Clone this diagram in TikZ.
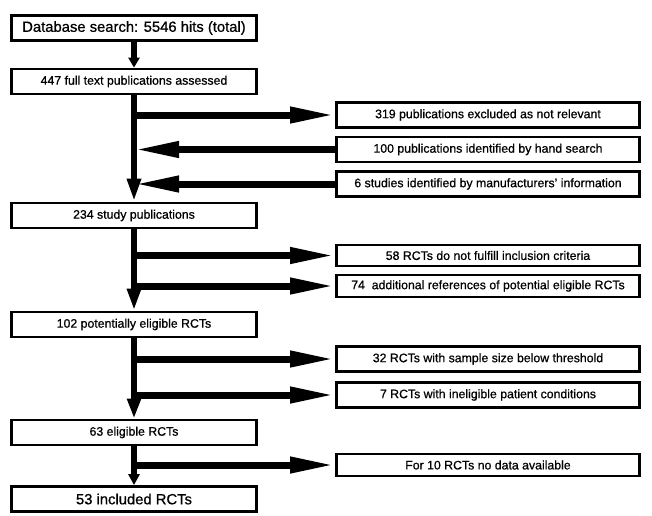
\documentclass[tikz,border=0pt]{standalone}
\usepackage{fontspec}
\setmainfont{Liberation Sans}[FakeBold=0.7]
\usetikzlibrary{arrows.meta}
\tikzset{
  box/.style={draw, line width=2.8pt, fill=white, inner sep=0pt, align=center,
    font=\fontsize{12.3}{14}\selectfont},
  leftbox/.style={box, minimum width=245pt, minimum height=25pt},
  rightbox/.style={box, minimum width=303pt, minimum height=25pt},
  bigtext/.style={font=\fontsize{14.8}{17}\selectfont},
  vline/.style={line width=6pt},
  harr/.style={line width=7pt, -{Triangle[length=45pt,width=15pt]}}
}
\begin{document}
\begin{tikzpicture}[x=1pt,y=-1pt]
\useasboundingbox[fill=white] (0,0) rectangle (652,515);
\node[leftbox,bigtext] (db) at (134,28) {Database search: 5546 hits (total)};
\node[leftbox] (full) at (134,81.5) {447 full text publications assessed};
\node[leftbox] (s234) at (134,215.5) {234 study publications};
\node[leftbox] (p102) at (134,324.5) {102 potentially eligible RCTs};
\node[leftbox] (e63) at (134,432.5) {63 eligible RCTs};
\node[leftbox,bigtext] (i53) at (134,499) {53 included RCTs};
\node[rightbox] (e319) at (488,115) {319 publications excluded as not relevant};
\node[rightbox] (h100) at (488,149.5) {100 publications identified by hand search};
\node[rightbox] (m6) at (488,184) {6 studies identified by manufacturers’ information};
\node[rightbox,minimum height=21pt] (r58) at (488,255.5) {58 RCTs do not fulfill inclusion criteria};
\node[rightbox,minimum height=22pt] (a74) at (488,286) {74~ additional references of potential eligible RCTs};
\node[rightbox] (r32) at (488,359) {32 RCTs with sample size below threshold};
\node[rightbox] (r7) at (488,395) {7 RCTs with ineligible patient conditions};
\node[rightbox,minimum height=22pt] (n10) at (488,465) {For 10 RCTs no data available};
\draw[vline,-{Triangle[length=10pt,width=11pt]}] (db) -- (full);
\draw[vline,-{Triangle[length=23pt,width=13pt]}] (full) -- (s234);
\draw[vline,-{Triangle[length=22pt,width=13pt]}] (s234) -- (p102);
\draw[vline,-{Triangle[length=20pt,width=13pt]}] (p102) -- (e63);
\draw[vline,-{Triangle[length=11pt,width=11pt]}] (e63) -- (i53);
\draw[harr] (full.south |- e319.west) -- (e319.west);
\draw[harr] (h100.west) -- (full.south |- h100.west);
\draw[harr] (m6.west) -- (full.south |- m6.west);
\foreach \from/\to in {s234/r58,s234/a74,p102/r32,p102/r7,e63/n10} {
  \draw[harr] (\from.south |- \to.west) -- (\to.west);
}
\end{tikzpicture}
\end{document}
